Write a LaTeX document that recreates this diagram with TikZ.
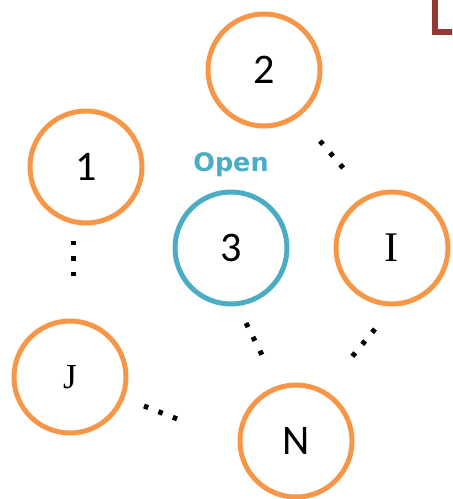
\documentclass[tikz,border=0pt]{standalone}
\usepackage{fontspec}
\setmainfont{Carlito}
\newfontfamily\serifletter{Liberation Serif}
\newfontfamily\labelfont{DejaVu Sans}
\usetikzlibrary{positioning}
\usepackage{xcolor}
\definecolor{peerorange}{HTML}{F79646}
\definecolor{openblue}{HTML}{4BACC6}
\definecolor{framered}{HTML}{953735}
\tikzset{
  peer/.style={circle, draw=peerorange, line width=0.1cm, minimum size=2.24cm,
               inner sep=0pt, font=\fontsize{24}{27}\selectfont},
  openpeer/.style={peer, draw=openblue},
  peerletter/.style={peer, font=\fontsize{24}{27}\selectfont\serifletter},
  gap/.style={line width=0.1cm, dash pattern=on 0.09cm off 0.22cm, draw=black},
  statelabel/.style={font=\fontsize{14.5}{17}\selectfont\labelfont\bfseries,
                     text=openblue, inner sep=0pt},
}
\begin{document}
\begin{tikzpicture}[x=0.02cm, y=-0.02cm]
  \useasboundingbox (0,0) rectangle (452,499);
  \clip (0,0) rectangle (452,499);

  % --- frame corner at the top right ---
  \draw[framered, line width=0.11cm] (435,-10) -- (435,32) -- (470,32);

  % --- peers ---
  \node[peer] (p2) at (264,70) {2};
  \node[peer] (p1) at (86,167) {1};
  \node[openpeer] (p3) at (231,248) {3};
  \node[peerletter] (pI) at (392,248) {I};
  \node[peerletter, font=\fontsize{20}{24}\selectfont\serifletter] (pJ) at (70,377) {J};
  \node[peer] (pN) at (296,441) {N};

  \node[statelabel, anchor=base] (open) at (231,172) {Open};

  % --- gaps between peers ---
  \coordinate (g2a) at (320,141);  \coordinate (g2b) at (344,169);
  \coordinate (g1a) at (73,241);   \coordinate (g1b) at (73,278);
  \coordinate (gJa) at (144,406);  \coordinate (gJb) at (180,420);
  \coordinate (g3a) at (246,323);  \coordinate (g3b) at (263,357);
  \coordinate (gIa) at (375,329);  \coordinate (gIb) at (351,358);
  \draw[gap] (g2a) -- (g2b);
  \draw[gap] (g1a) -- (g1b);
  \draw[gap] (gJa) -- (gJb);
  \draw[gap] (g3a) -- (g3b);
  \draw[gap] (gIa) -- (gIb);

\end{tikzpicture}
\end{document}
